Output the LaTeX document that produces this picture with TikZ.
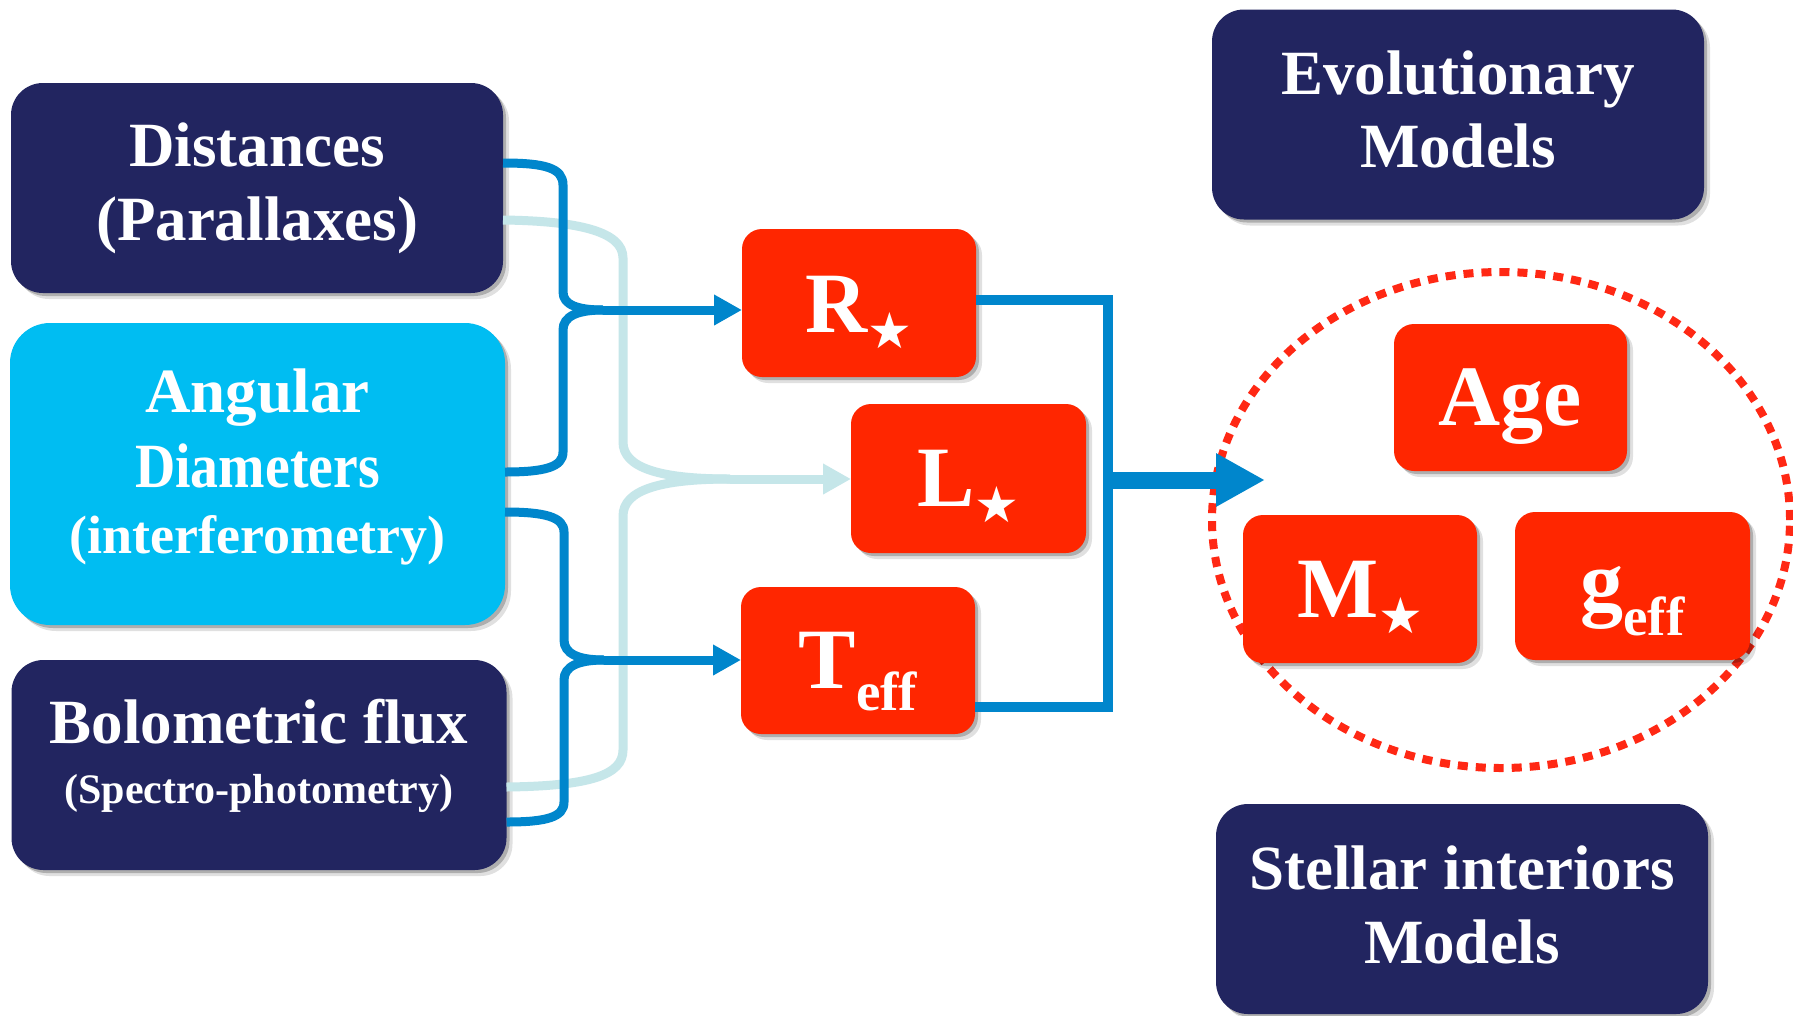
\documentclass[tikz,border=0pt]{standalone}
\usepackage{graphicx}
\usepackage{fontspec}
\setmainfont{Liberation Serif}
\newfontfamily\starfnt{DejaVu Sans}
\usetikzlibrary{shadows,arrows.meta,shapes.geometric}
\definecolor{navybg}{RGB}{34,37,96}
\definecolor{cyanbg}{RGB}{0,189,242}
\definecolor{redbg}{RGB}{255,38,0}
\definecolor{conblue}{RGB}{0,134,204}
\definecolor{conlight}{RGB}{197,230,233}
\definecolor{dotred}{RGB}{255,40,20}
\newcommand\tstack[2]{\raisebox{#1}[0pt][0pt]{\begin{tabular}[t]{@{}c@{}}#2\end{tabular}}}
\newcommand\lift[2]{\raisebox{#1}[0pt][0pt]{#2}}
\newcommand\sstar{\raisebox{-16pt}{\starfnt\fontsize{50}{50}\selectfont ★}}
\tikzset{
  softshadow/.style={
    drop shadow={shadow xshift=3pt,shadow yshift=-3pt,opacity=0.22,fill=black},
    drop shadow={shadow xshift=6pt,shadow yshift=-6pt,opacity=0.12,fill=black}},
  basebox/.style={softshadow,inner sep=0pt,outer sep=0pt,text=white,font=\bfseries},
  navybox/.style={basebox,fill=navybg,rounded corners=32pt,minimum width=492pt,minimum height=210pt},
  cyanbox/.style={basebox,fill=cyanbg,rounded corners=40pt,minimum width=495pt,minimum height=302pt},
  redbox/.style={basebox,fill=redbg,rounded corners=20pt,minimum width=234pt,minimum height=148pt},
  darkcon/.style={draw=conblue,line width=9pt},
  lightcon/.style={draw=conlight,line width=9pt},
  darkarrow/.style={darkcon,-{Triangle[length=28pt,width=29pt]}},
  lightarrow/.style={lightcon,-{Triangle[length=28pt,width=29pt]}},
  rightcon/.style={draw=conblue,line width=10pt,line join=miter},
  bigarrow/.style={draw=conblue,line width=17pt,-{Triangle[length=49pt,width=50pt]}},
  dotring/.style={draw=dotred,line width=8pt,dash pattern=on 10pt off 8pt,ellipse,inner sep=0pt}
}
\begin{document}
\begin{tikzpicture}[x=1pt,y=-1pt]
\useasboundingbox (0,0) rectangle (1793,1015);
\fill[white] (0,0) rectangle (1793,1015);

% dotted group ring
\node[dotring,minimum width=578pt,minimum height=496pt] (grp) at (1501,520) {};

% left boxes
\node[navybox] (dist) at (257,188)
  {\fontsize{63}{74}\selectfont\tstack{22pt}{Distances\\(Parallaxes)}};
\node[cyanbox] (ang) at (257.5,474)
  {\fontsize{63}{75}\selectfont\tstack{62pt}{Angular\\\scalebox{0.885}[1]{Diameters}\\[-9pt]\fontsize{54}{60}\selectfont(interferometry)}};
\node[navybox,minimum width=495pt] (bol) at (259,765)
  {\fontsize{63}{60}\selectfont\tstack{22pt}{Bolometric flux\\\fontsize{42}{50}\selectfont(Spectro-photometry)}};

% right model boxes
\node[navybox] (evo) at (1458,114.5)
  {\fontsize{63}{73}\selectfont\tstack{20.5pt}{Evolutionary\\Models}};
\node[navybox] (stel) at (1462,909)
  {\fontsize{63}{74}\selectfont\tstack{20pt}{Stellar interiors\\Models}};

% red parameter boxes
\node[redbox] (R) at (859,303)
  {\lift{-29pt}{\fontsize{86}{86}\selectfont R\sstar}};
\node[redbox,minimum width=235pt,minimum height=149pt] (L) at (968.5,478.5)
  {\lift{-27.5pt}{\fontsize{86}{86}\selectfont L\sstar}};
\node[redbox,minimum height=147pt] (T) at (858,660.5)
  {\lift{-27.5pt}{\fontsize{86}{86}\selectfont T\raisebox{-22pt}{\fontsize{55}{55}\selectfont eff}}};
\node[redbox,minimum width=233pt,minimum height=147pt] (age) at (1510.5,397.5)
  {\lift{-27.5pt}{\fontsize{86}{86}\selectfont Age}};
\node[redbox] (M) at (1360,589)
  {\lift{-28pt}{\fontsize{86}{86}\selectfont M\sstar}};
\node[redbox,minimum width=235pt] (g) at (1632.5,586)
  {\lift{-24pt}{\fontsize{86}{86}\selectfont g\raisebox{-25pt}{\fontsize{55}{55}\selectfont eff}}};

% junction points
\coordinate (c1) at (603,310);
\coordinate (c2) at (604,660);
\coordinate (c3) at (730,479);
\coordinate (rv) at (1108,480);
\coordinate (tip) at (1265,480);

% light bracket (distances + flux -> L)
\draw[lightcon] ([yshift=-32pt]dist.east) .. controls (580,221) and (623,232) .. (623,258)
  -- (623,442) .. controls (623,468) and (660,479) .. (c3);
\draw[lightcon] ([yshift=-22pt]bol.east) .. controls (590,786) and (623,775) .. (623,750)
  -- (623,516) .. controls (623,490) and (660,479) .. (c3);
\draw[lightarrow] (c3) -- (c3 -| L.west);

% dark bracket (distances + diameters -> R)
\draw[darkcon] ([yshift=25pt]dist.east) .. controls (545,163) and (563,168) .. (563,185)
  -- (563,292) .. controls (563,305) and (578,310) .. (c1);
\draw[darkcon] ([yshift=2pt]ang.east) .. controls (545,472) and (563,467) .. (563,452)
  -- (563,330) .. controls (563,316) and (578,310) .. (c1);
\draw[darkarrow] (c1) -- (c1 -| R.west);

% dark bracket (diameters + flux -> Teff)
\draw[darkcon] ([yshift=-38pt]ang.east) .. controls (545,512) and (564,517) .. (564,532)
  -- (564,640) .. controls (564,654) and (579,660) .. (c2);
\draw[darkcon] ([yshift=-57pt]bol.east) .. controls (547,822) and (564,817) .. (564,802)
  -- (564,680) .. controls (564,666) and (579,660) .. (c2);
\draw[darkarrow] (c2) -- (c2 -| T.west);

% right bracket R, Teff -> group
\draw[rightcon] ([yshift=3pt]R.east) -| (rv) |- ([yshift=-46.5pt]T.east);
\draw[bigarrow] (rv) -- (tip);
\end{tikzpicture}
\end{document}
